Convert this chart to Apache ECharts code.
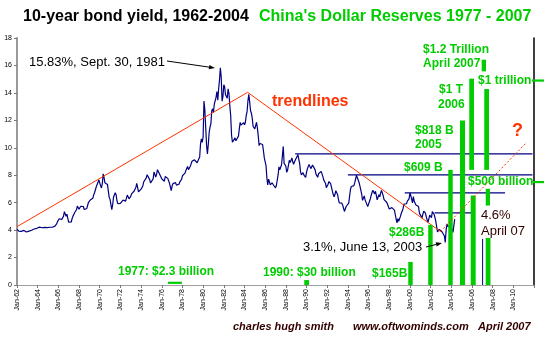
<!DOCTYPE html>
<html><head><meta charset="utf-8">
<script src="https://cdn.jsdelivr.net/npm/echarts@6/dist/echarts.min.js"></script>
<style>html,body{margin:0;padding:0;background:#fff}#c{width:545px;height:340px}</style>
</head><body><div id="c"></div>
<script>
// ---------- DATA ----------
const START_YEAR = 1962;              // first monthly observation: Jan 1962
// 10-year Treasury yield, monthly (%), Jan 1962 .. May 2004
const yieldMonthly = [
 4.08,4.04,3.93,3.84,3.87,3.91,4.01,3.98,3.98,3.93,3.92,3.86,
 3.83,3.92,3.93,3.97,3.93,3.99,4.02,4.00,4.08,4.11,4.12,4.13,
 4.17,4.15,4.22,4.23,4.20,4.17,4.19,4.19,4.20,4.19,4.15,4.18,
 4.19,4.21,4.21,4.20,4.21,4.21,4.20,4.25,4.29,4.35,4.45,4.62,
 4.61,4.83,4.87,4.75,4.78,4.81,5.02,5.35,5.18,5.01,5.16,4.84,
 4.58,4.63,4.54,4.59,4.85,5.02,5.16,5.28,5.30,5.48,5.75,5.70,
 5.53,5.56,5.74,5.64,5.87,5.72,5.50,5.42,5.46,5.58,5.70,6.03,
 6.04,6.19,6.30,6.17,6.32,6.57,6.72,6.69,7.16,7.10,7.14,7.65,
 7.79,7.24,7.07,7.39,8.10,7.84,7.46,7.53,7.39,7.33,6.84,6.39,
 6.24,6.11,5.50,5.83,6.39,6.52,6.73,6.58,6.14,5.93,5.81,5.93,
 5.95,6.08,6.07,6.19,6.13,6.11,6.11,6.21,6.55,6.48,6.28,6.36,
 6.46,6.64,6.71,6.67,6.85,6.90,7.13,7.40,7.09,6.79,6.73,6.74,
 6.99,6.96,7.21,7.51,7.58,7.54,7.81,8.04,8.04,7.90,7.68,7.43,
 7.50,7.39,7.73,8.23,8.06,7.86,8.06,8.40,8.43,8.14,8.05,8.00,
 7.74,7.79,7.73,7.56,7.90,7.86,7.83,7.77,7.59,7.41,7.29,6.87,
 7.21,7.39,7.46,7.37,7.46,7.28,7.33,7.40,7.34,7.52,7.58,7.69,
 7.96,8.03,8.04,8.15,8.35,8.46,8.64,8.41,8.42,8.64,8.81,9.01,
 9.10,9.10,9.12,9.18,9.25,8.91,8.95,9.03,9.33,10.30,10.65,10.39,
 10.80,13.40,12.75,11.47,10.18,9.55,10.25,11.10,11.51,11.75,12.68,12.84,
 12.57,13.19,13.12,13.68,14.10,13.47,14.28,14.94,15.83,15.15,13.39,13.72,
 14.59,14.43,13.86,13.87,13.62,14.30,13.95,13.06,12.34,10.91,10.40,10.54,
 10.46,10.72,10.51,10.40,10.38,10.85,11.38,11.85,11.65,11.54,11.69,11.83,
 11.67,11.84,12.32,12.63,13.41,13.90,13.36,12.72,12.52,12.16,11.57,11.50,
 11.38,11.51,11.86,11.43,10.85,10.16,10.31,10.33,10.37,10.24,9.78,9.26,
 9.19,8.70,7.78,7.30,7.71,7.80,7.30,7.17,7.45,7.43,7.25,7.11,
 7.08,7.25,7.25,8.02,8.61,8.40,8.45,8.76,9.42,10.10,8.86,8.99,
 8.67,8.21,8.37,8.72,9.09,8.92,9.06,9.26,8.98,8.80,8.96,9.11,
 9.09,9.17,9.50,9.18,8.86,8.28,8.02,8.11,8.19,8.01,7.87,7.84,
 8.21,8.47,8.59,8.79,8.76,8.48,8.47,8.75,8.89,8.72,8.39,8.08,
 8.09,7.85,8.11,8.04,8.07,8.28,8.27,7.90,7.65,7.53,7.42,7.09,
 7.03,7.34,7.54,7.48,7.39,7.26,6.84,6.59,6.42,6.59,6.87,6.77,
 6.60,6.26,5.98,5.97,6.04,5.96,5.81,5.68,5.36,5.33,5.72,5.77,
 5.75,5.97,6.48,6.97,7.18,7.10,7.30,7.24,7.46,7.74,8.00,7.81,
 7.78,7.47,7.20,7.06,6.63,6.17,6.28,6.49,6.20,6.04,5.93,5.71,
 5.65,5.81,6.27,6.51,6.74,6.91,6.87,6.64,6.83,6.53,6.20,6.30,
 6.58,6.42,6.69,6.89,6.71,6.49,6.22,6.30,6.21,6.03,5.88,5.81,
 5.54,5.57,5.65,5.64,5.65,5.50,5.46,5.34,4.81,4.53,4.83,4.65,
 4.72,5.00,5.23,5.18,5.54,5.90,5.79,5.94,5.92,6.11,6.03,6.28,
 6.70,6.52,6.26,5.99,6.44,6.10,6.05,5.83,5.80,5.74,5.72,5.24,
 5.16,5.10,4.89,5.14,5.39,5.28,5.24,4.97,4.73,4.57,4.65,5.09,
 5.04,4.91,5.35,5.21,5.16,4.93,4.65,4.26,3.87,3.94,4.05,4.03,
 4.05,3.90,3.81,3.96,3.57,3.10,3.98,4.45,4.27,4.29,4.30,4.27,
 4.15,4.08,3.83,4.35,4.80
];
// axis ranges
const xRange = [1962, 2012];   // years
const xStep = 2;
const yRange = [0, 18];        // percent
const yStep = 2;
// red trendlines [year, %]
const trendDown = [[1962, 4.25], [1984.3, 14.04], [2002.95, 3.9]];
const trendUp = [[2002.95, 3.9], [2011.3, 10.4]];
// navy horizontal levels [fromYear, toYear, %]
const levels = [
  [1988.9, 2011.85, 9.56],
  [1994.0, 2011.85, 8.03],
  [1999.5, 2009.2, 6.72],
  [2002.4, 2006.05, 5.26]
];
// "April 07" marker [year, fromValue, toValue]
const aprilMarker = [[2007.03, 0, 3.36]];
// China reserves green bar pieces [fromYear, toYear, low, high] (drawn on the yield scale)
const reserveSegments = [
  [1976.60, 1977.95, 0.08, 0.24],   // 1977: $2.3 billion
  [1989.78, 1990.24, 0.00, 0.36],   // 1990: $30 billion
  [1999.84, 2000.27, 0.00, 1.68],   // $165B
  [2001.77, 2002.20, 0.00, 4.38],   // $286B
  [2003.71, 2004.14, 0.00, 8.39],   // $609 B
  [2004.84, 2005.33, 0.00, 11.99],  // $818 B 2005
  [2005.74, 2006.20, 8.39, 15.04],  // $1 T 2006
  [2005.88, 2006.36, 0.00, 6.52],
  [2006.94, 2007.36, 15.57, 16.42], // $1.2 Trillion April 2007
  [2007.19, 2007.65, 8.39, 14.28],
  [2007.33, 2007.74, 5.79, 7.01],
  [2007.33, 2007.79, 0.00, 3.43],
  [2011.80, 2012.97, 14.82, 14.98], // "$1 trillion —"
  [2011.85, 2012.97, 7.42, 7.58]    // "$500 billion —"
];
// ---------- STYLE ----------
const FONT = '"Liberation Sans", Arial, sans-serif';
const GREEN = '#00cc00';
const NAVY = '#000080';
const RED = '#ff3300';
const MAROON = '#330000';

const texts = [
  ['10-year bond yield, 1962-2004', 23, 17, 'bold 16px', '#000'],
  ["China's Dollar Reserves 1977 - 2007", 259, 17, 'bold 16px', GREEN],
  ['15.83%, Sept. 30, 1981', 29, 62, '13px', '#000'],
  ['trendlines', 272, 102, 'bold 16px', RED],
  ['?', 512, 131, 'bold 18px', RED],
  ['3.1%, June 13, 2003', 303, 247, '13px', '#000'],
  ['4.6%', 481, 215, '13px', MAROON],
  ['April 07', 481, 231, '13px', MAROON],
  ['1977: $2.3 billion', 118, 272, 'bold 12px', GREEN],
  ['1990: $30 billion', 263, 273, 'bold 12px', GREEN],
  ['$165B', 372, 274, 'bold 12px', GREEN],
  ['$286B', 389, 233, 'bold 12px', GREEN],
  ['$609 B', 404, 168, 'bold 12px', GREEN],
  ['$818 B', 415, 131, 'bold 12px', GREEN],
  ['2005', 415, 145, 'bold 12px', GREEN],
  ['$1 T', 439, 90, 'bold 12px', GREEN],
  ['2006', 438, 105, 'bold 12px', GREEN],
  ['$1.2 Trillion', 423, 50, 'bold 12px', GREEN],
  ['April 2007', 423, 64, 'bold 12px', GREEN],
  ['$1 trillion', 478, 81, 'bold 12px', GREEN],
  ['$500 billion', 468, 182, 'bold 12px', GREEN],
  ['charles hugh smith', 233, 327, 'italic bold 11px', MAROON],
  ['www.oftwominds.com', 353, 327, 'italic bold 11px', MAROON],
  ['April 2007', 478, 327, 'italic bold 11px', MAROON]
];
const arrows = [[167, 61, 215, 68], [426, 247, 442, 243]];

function arrow(x1, y1, x2, y2) {
  const a = Math.atan2(y2 - y1, x2 - x1), L = 6, W = 2.2;
  const bx = x2 - L * Math.cos(a), by = y2 - L * Math.sin(a);
  const px = -Math.sin(a) * W, py = Math.cos(a) * W;
  return [
    {type: 'line', shape: {x1, y1, x2: bx, y2: by}, style: {stroke: '#000', lineWidth: 1}, z: 50},
    {type: 'polygon', shape: {points: [[x2, y2], [bx + px, by + py], [bx - px, by - py]]}, style: {fill: '#000'}, z: 50}
  ];
}

const graphic = [];
texts.forEach(([t, x, y, f, c]) => graphic.push({
  type: 'text', x, y, z: 50,
  style: {text: t, font: f + ' ' + FONT, fill: c, verticalAlign: 'middle', align: 'left'}
}));
arrows.forEach(a => graphic.push(...arrow(...a)));

const chart = echarts.init(document.getElementById('c'), null, {renderer: 'canvas'});
chart.setOption({
  animation: false,
  backgroundColor: '#fff',
  grid: {left: 17, right: 11, top: 38, bottom: 55, containLabel: false},
  xAxis: [{
    type: 'value', min: xRange[0], max: xRange[1], interval: xStep,
    axisLine: {lineStyle: {color: '#999', width: 1, type: 'dotted'}},
    axisTick: {show: true, length: 3, lineStyle: {color: '#777'}},
    splitLine: {show: false},
    axisLabel: {rotate: 90, margin: 4, fontSize: 7, color: '#000', fontFamily: FONT,
      formatter: v => v >= xRange[1] ? '' : 'Jan-' + String(v).slice(2)}
  }, {
    type: 'value', position: 'top', min: xRange[0], max: xRange[1],
    axisLine: {show: true, lineStyle: {color: '#999', width: 1, type: 'dotted'}},
    axisTick: {show: false}, axisLabel: {show: false}, splitLine: {show: false}
  }],
  yAxis: [{
    type: 'value', min: yRange[0], max: yRange[1], interval: yStep,
    axisLine: {show: true, lineStyle: {color: '#999', width: 2}},
    axisTick: {show: true, length: 3, lineStyle: {color: '#777'}},
    splitLine: {show: false},
    axisLabel: {margin: 5, fontSize: 7, color: '#000', fontFamily: FONT}
  }, {
    type: 'value', position: 'right', min: yRange[0], max: yRange[1],
    axisLine: {show: true, lineStyle: {color: '#000', width: 1.5}},
    axisTick: {show: false}, axisLabel: {show: false}, splitLine: {show: false}
  }],
  series: [
    {
      type: 'custom', z: 2, clip: false,
      renderItem: (p, api) => {
        const a = api.coord([api.value(0), api.value(2)]);
        const b = api.coord([api.value(1), api.value(2)]);
        return {type: 'line', shape: {x1: a[0], y1: a[1], x2: b[0], y2: b[1]},
          style: {stroke: NAVY, lineWidth: 1.3}};
      },
      encode: {x: [0, 1], y: 2},
      data: levels
    },
    {
      type: 'custom', z: 2, clip: false,
      renderItem: (p, api) => {
        const a = api.coord([api.value(0), api.value(1)]);
        const b = api.coord([api.value(0), api.value(2)]);
        return {type: 'line', shape: {x1: a[0], y1: a[1], x2: b[0], y2: b[1]},
          style: {stroke: NAVY, lineWidth: 1}};
      },
      encode: {x: 0, y: [1, 2]},
      data: aprilMarker
    },
    {
      type: 'line', z: 3, showSymbol: false, symbol: 'none',
      lineStyle: {color: NAVY, width: 1.2},
      data: yieldMonthly.map((v, i) => [START_YEAR + i / 12, v])
    },
    {
      type: 'line', z: 4, showSymbol: false, symbol: 'none',
      lineStyle: {color: RED, width: 1},
      data: trendDown
    },
    {
      type: 'custom', z: 5, clip: false,
      renderItem: (p, api) => {
        const a = api.coord([api.value(0), api.value(3)]);
        const b = api.coord([api.value(1), api.value(2)]);
        return {type: 'rect', shape: {x: a[0], y: a[1], width: b[0] - a[0], height: b[1] - a[1]},
          style: {fill: GREEN}};
      },
      encode: {x: [0, 1], y: [2, 3]},
      data: reserveSegments
    },
    {
      type: 'line', z: 6, showSymbol: false, symbol: 'none',
      lineStyle: {color: RED, width: 1, type: [2, 2]},
      data: trendUp
    }
  ],
  graphic: graphic
});
</script>
</body></html>
